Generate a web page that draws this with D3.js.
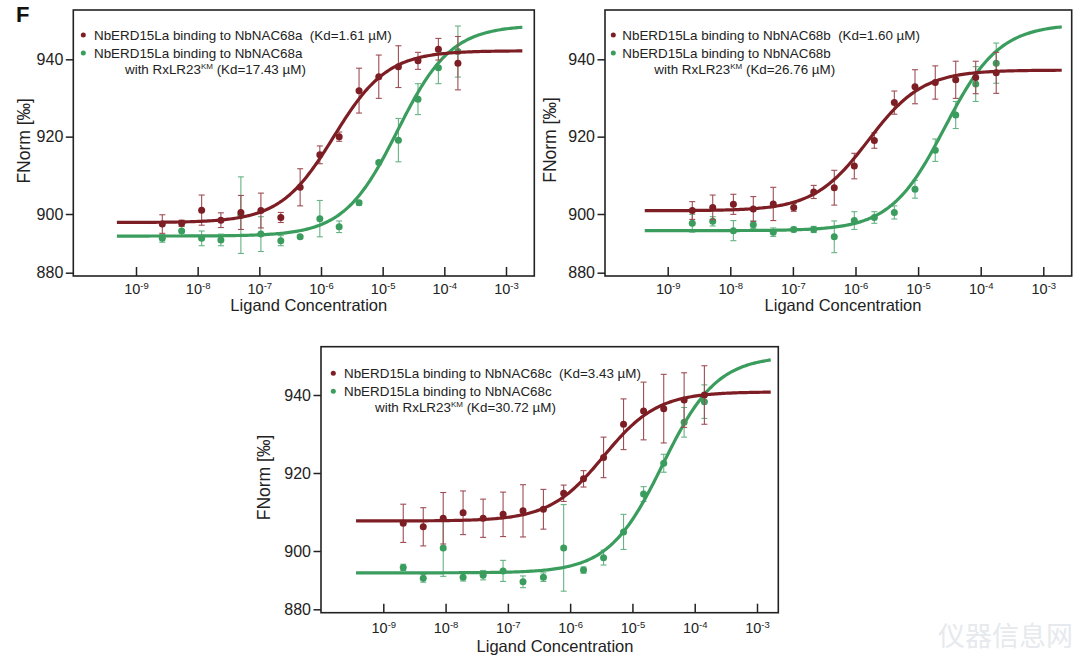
<!DOCTYPE html>
<html>
<head>
<meta charset="utf-8">
<script src="https://cdn.jsdelivr.net/npm/d3@7"></script>
<style>
  body { margin: 0; background: #fff; }
  svg text { font-family: "Liberation Sans", Arial, sans-serif; fill: #222; }
</style>
</head>
<body>
<script>
const conc1 = [2.67e-9, 5.5e-9, 1.16e-8, 2.38e-8, 5.02e-8, 1.06e-7, 2.23e-7, 4.59e-7, 9.57e-7, 1.97e-6, 4.14e-6, 8.65e-6, 1.8e-5, 3.74e-5, 8.01e-5, 1.66e-4]
const conc2 = [2.47e-9, 5.24e-9, 1.12e-8, 2.33e-8, 4.86e-8, 1.03e-7, 2.15e-7, 4.58e-7, 9.57e-7, 2.0e-6, 4.17e-6, 8.92e-6, 1.88e-5, 3.99e-5, 8.32e-5, 1.77e-4]
const conc3 = [2.09e-9, 4.38e-9, 9.16e-9, 1.91e-8, 4.01e-8, 8.38e-8, 1.75e-7, 3.72e-7, 7.87e-7, 1.64e-6, 3.44e-6, 7.2e-6, 1.51e-5, 3.18e-5, 6.76e-5, 1.43e-4]

// FNorm values and error bars
const red1 = [897.4, 897.6, 901.0, 898.4, 900.4, 900.9, 899.1, 906.9, 915.3, 920.0, 931.9, 935.5, 938.1, 939.6, 942.6, 939.0]
const red1Err = [2.4, 0.8, 3.9, 1.9, 4.4, 4.5, 1.3, 4.8, 2.3, 1.2, 5.8, 5.6, 5.4, 2.2, 2.8, 6.9]
const green1 = [893.7, 895.6, 893.7, 893.3, 899.7, 894.8, 893.1, 894.1, 898.8, 896.7, 902.9, 913.3, 919.1, 929.7, 937.8, 942.0]
const green1Err = [1.0, 1.2, 1.9, 1.5, 9.9, 4.5, 1.3, 0.4, 4.7, 1.5, 0.6, 0.4, 5.6, 4.0, 4.1, 6.6]

const red2 = [900.9, 901.7, 902.5, 901.3, 902.6, 901.7, 905.7, 906.8, 912.4, 919.0, 928.8, 932.9, 934.0, 934.7, 935.3, 936.5]
const red2Err = [2.3, 3.2, 2.6, 3.2, 4.3, 1.0, 1.7, 4.5, 3.3, 2.0, 3.0, 4.4, 4.3, 4.8, 4.2, 5.3]
const green2 = [897.6, 898.1, 895.7, 897.2, 895.3, 896.0, 896.0, 894.1, 898.3, 899.1, 900.4, 906.4, 916.5, 925.6, 933.6, 939.0]
const green2Err = [2.3, 1.2, 2.6, 1.0, 1.1, 0.6, 0.8, 4.1, 2.3, 1.5, 1.7, 2.3, 2.9, 3.5, 4.5, 5.2]

const red3 = [907.1, 906.2, 908.4, 909.8, 908.4, 909.4, 910.3, 910.7, 914.8, 918.5, 924.0, 932.5, 935.9, 936.5, 938.7, 940.0]
const red3Err = [4.9, 4.9, 6.6, 5.6, 4.9, 5.7, 6.7, 5.1, 2.1, 2.1, 5.2, 6.5, 7.4, 8.8, 7.0, 7.5]
const green3 = [895.8, 893.0, 900.8, 893.3, 893.8, 894.9, 892.1, 893.3, 900.8, 895.1, 898.3, 904.9, 914.6, 922.5, 933.0, 938.3]
const green3Err = [0.8, 1.0, 7.3, 1.0, 1.2, 2.7, 1.5, 1.1, 11.1, 0.8, 1.9, 4.5, 1.9, 2.3, 3.8, 4.3]

// Kd fit parameters per panel: unbound, bound, Kd (M)
const redBottom = [897.8, 900.85, 907.7]
const redTop = [942.2, 937.2, 940.8]
const redKd = [1.61e-6, 1.60e-6, 3.43e-6]
const greenBottom = [894.3, 895.7, 894.4]
const greenTop = [948.8, 949.1, 950.0]
const greenKd = [17.43e-6, 26.76e-6, 30.72e-6]
const curveFrom = [4.9e-10, 4.3e-10, 3.65e-10]
const curveTo = [1.84e-3, 1.97e-3, 1.66e-3]

const redLabels = ['NbERD15La binding to NbNAC68a  (Kd=1.61 µM)', 'NbERD15La binding to NbNAC68b  (Kd=1.60 µM)', 'NbERD15La binding to NbNAC68c  (Kd=3.43 µM)']
const greenLabels = ['NbERD15La binding to NbNAC68a', 'NbERD15La binding to NbNAC68b', 'NbERD15La binding to NbNAC68c']
const greenKdLabels = [' (Kd=17.43 µM)', ' (Kd=26.76 µM)', ' (Kd=30.72 µM)']

const xTicks = [1e-9, 1e-8, 1e-7, 1e-6, 1e-5, 1e-4, 1e-3]
const yTicks = [880, 900, 920, 940]

const redColor = '#7d1d24'
const greenColor = '#3a9c5d'
const redBar = '#9e4d54'
const greenBar = '#66b383'

const panels = [
  { conc: conc1, red: red1, redErr: red1Err, green: green1, greenErr: green1Err,
    left: 73.3, top: 10, right: 534.3, bottom: 276, xr: [136, 506], yr: [272.7, 214, 59.3],
    lx: 83.3, ly: 35, tx: 94, tx2: 125, labelY: 18, xTitle: [308.8, 310.5], yTitle: [29.5, 140.8] },
  { conc: conc2, red: red2, redErr: red2Err, green: green2, greenErr: green2Err,
    left: 605, top: 10, right: 1071.7, bottom: 276, xr: [667.7, 1043.3], yr: [272.7, 214, 59.3],
    lx: 613.3, ly: 35, tx: 622.3, tx2: 654.3, labelY: 18, xTitle: [843, 310.5], yTitle: [556, 140] },
  { conc: conc3, red: red3, redErr: red3Err, green: green3, greenErr: green3Err,
    left: 321, top: 346.7, right: 778.3, bottom: 612.7, xr: [383.3, 757], yr: [609.3, 551, 395],
    lx: 333.3, ly: 373.3, tx: 344, tx2: 375, labelY: 20, xTitle: [555, 652], yTitle: [269.5, 477.5] }
]

const svg = d3.select('body').append('svg').attr('width', 1080).attr('height', 658)

// faint site watermark seen in the bottom-right corner
svg.append('text').text('仪器信息网').attr('x', 938).attr('y', 646)
  .style('font-family', '"Noto Sans CJK SC", sans-serif').style('font-size', '27px').style('fill', '#e6e9ed')

svg.append('text').text('F').attr('x', 16).attr('y', 21.5)
  .style('font-size', '22px').style('font-weight', 'bold').style('fill', '#111')

panels.forEach((p, i) => {
  const g = svg.append('g')
  const x = d3.scaleLog().domain([1e-9, 1e-3]).range(p.xr)
  // the printed y axis has a short bottom segment (880 -> 900), the data area is linear
  const yAxisScale = d3.scaleLinear().domain([880, 900, 940]).range(p.yr)
  const y = d3.scaleLinear().domain([900, 940]).range([p.yr[1], p.yr[2]])

  g.append('rect').attr('x', p.left).attr('y', p.top)
    .attr('width', p.right - p.left).attr('height', p.bottom - p.top)
    .attr('fill', 'none').attr('stroke', '#222').attr('stroke-width', 1.6)

  const gx = g.append('g').attr('transform', `translate(0,${p.bottom})`)
    .call(d3.axisBottom(x).tickValues(xTicks).tickSize(-9).tickFormat(() => '10'))
  gx.select('.domain').remove()
  gx.attr('font-family', null).attr('font-size', null)
  gx.selectAll('.tick line').attr('stroke', '#222').attr('stroke-width', 1.5)
  gx.selectAll('.tick text').attr('y', p.labelY).attr('dy', null).style('font-size', '14.5px')
    .append('tspan').attr('dy', -5).style('font-size', '9.5px')
    .text(d => Math.round(Math.log10(d)))

  const gy = g.append('g').attr('transform', `translate(${p.left},0)`)
    .call(d3.axisLeft(yAxisScale).tickValues(yTicks).tickSize(7.5).tickPadding(2.5))
  gy.select('.domain').remove()
  gy.attr('font-family', null).attr('font-size', null)
  gy.selectAll('.tick line').attr('stroke', '#222').attr('stroke-width', 1.5)
  gy.selectAll('.tick text').style('font-size', '16px')

  g.append('text').text('Ligand Concentration').attr('x', p.xTitle[0]).attr('y', p.xTitle[1])
    .attr('text-anchor', 'middle').style('font-size', '16.5px')
  g.append('text').text('FNorm [‰]').attr('text-anchor', 'middle')
    .attr('transform', `translate(${p.yTitle[0]},${p.yTitle[1]}) rotate(-90)`).style('font-size', '17.5px')

  const series = [
    { vals: p.green, err: p.greenErr, bottom: greenBottom[i], top: greenTop[i], kd: greenKd[i], color: greenColor, bar: greenBar },
    { vals: p.red, err: p.redErr, bottom: redBottom[i], top: redTop[i], kd: redKd[i], color: redColor, bar: redBar }
  ]

  series.forEach(s => {
    const pts = p.conc.map((c, j) => ({ c: c, v: s.vals[j], e: s.err[j] }))

    const eb = g.append('g').attr('stroke', s.bar).attr('stroke-width', 1.1)
    eb.selectAll('.bar').data(pts).enter().append('line')
      .attr('x1', d => x(d.c)).attr('x2', d => x(d.c))
      .attr('y1', d => y(d.v - d.e)).attr('y2', d => y(d.v + d.e))
    eb.selectAll('.capHi').data(pts).enter().append('line')
      .attr('x1', d => x(d.c) - 3).attr('x2', d => x(d.c) + 3)
      .attr('y1', d => y(d.v + d.e)).attr('y2', d => y(d.v + d.e))
    eb.selectAll('.capLo').data(pts).enter().append('line')
      .attr('x1', d => x(d.c) - 3).attr('x2', d => x(d.c) + 3)
      .attr('y1', d => y(d.v - d.e)).attr('y2', d => y(d.v - d.e))

    // fitted Kd curve: bottom + (top - bottom) * L / (L + Kd)
    const lo = Math.log10(curveFrom[i]), hi = Math.log10(curveTo[i])
    const fit = d3.range(0, 241).map(k => {
      const L = Math.pow(10, lo + (hi - lo) * k / 240)
      return [L, s.bottom + (s.top - s.bottom) * L / (L + s.kd)]
    })
    g.append('path').datum(fit)
      .attr('d', d3.line().x(d => x(d[0])).y(d => y(d[1])))
      .attr('fill', 'none').attr('stroke', s.color).attr('stroke-width', 3.2)

    g.selectAll(null).data(pts).enter().append('circle')
      .attr('cx', d => x(d.c)).attr('cy', d => y(d.v)).attr('r', 3.5).attr('fill', s.color)
  })

  // legend
  g.append('circle').attr('cx', p.lx).attr('cy', p.ly).attr('r', 2.5).attr('fill', redColor)
  g.append('text').text(redLabels[i]).attr('x', p.tx).attr('y', p.ly + 4.5)
    .style('font-size', '13.4px').style('white-space', 'pre')
  g.append('circle').attr('cx', p.lx).attr('cy', p.ly + 18).attr('r', 2.5).attr('fill', greenColor)
  g.append('text').text(greenLabels[i]).attr('x', p.tx).attr('y', p.ly + 23).style('font-size', '13.4px')
  const t3 = g.append('text').attr('x', p.tx2).attr('y', p.ly + 38.5).style('font-size', '13.4px').style('white-space', 'pre')
  t3.append('tspan').text('with RxLR23')
  t3.append('tspan').text('KM').attr('dy', -5).style('font-size', '8px')
  t3.append('tspan').text(greenKdLabels[i]).attr('dy', 5)
})
</script>
</body>
</html>
